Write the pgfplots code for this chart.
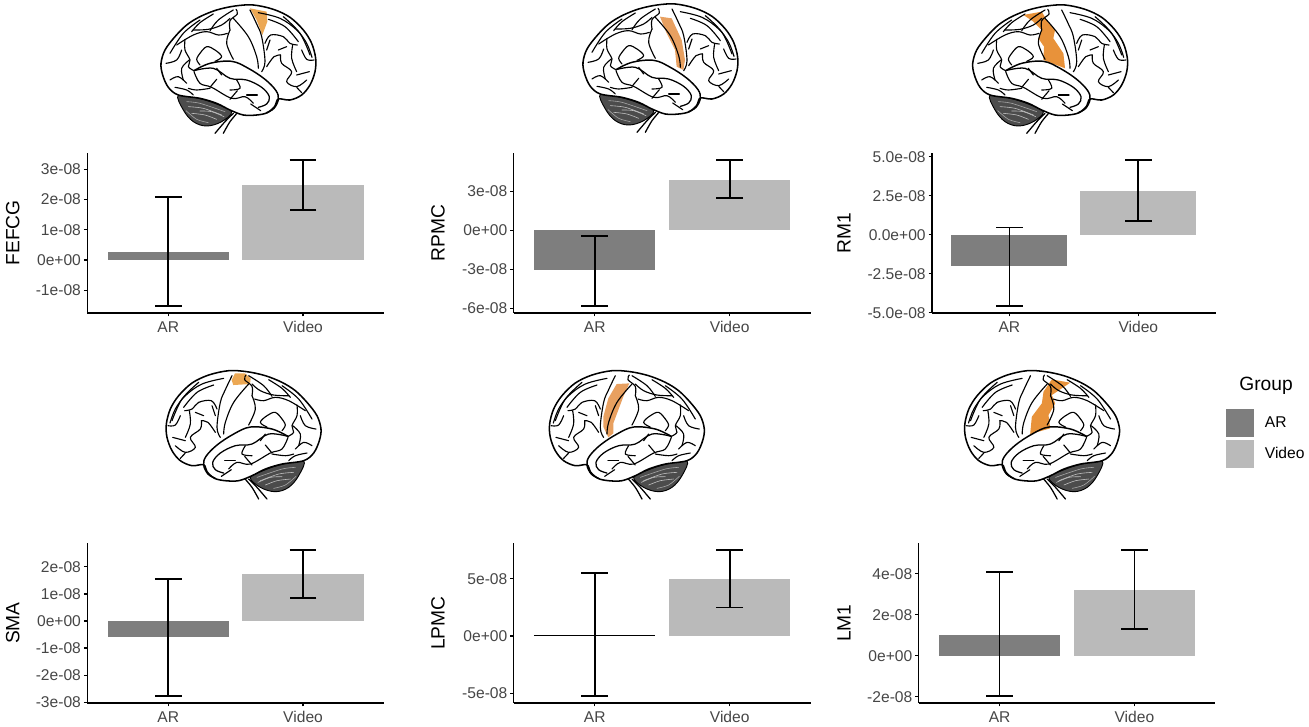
\documentclass[border=0pt]{standalone}
\usepackage{fontspec}
\setmainfont{Liberation Sans}
\usepackage{pgfplots}
\pgfplotsset{compat=1.18}
\definecolor{arGrey}{RGB}{126,126,126}
\definecolor{videoGrey}{RGB}{186,186,186}
\definecolor{tickGrey}{RGB}{70,70,70}
\pgfplotsset{
  panel/.style n args={4}{
    at={(#1*0.75pt,-#2*0.75pt)}, anchor=south west,
    scale only axis, width=#3pt, height=120pt,
    y label style={at={(axis description cs:#4,0.5)},anchor=center},
  },
  every panel/.style={
    ybar, bar shift=0pt, bar width=0.9,
    xmin=-0.6, xmax=1.6, xtick={0,1}, xticklabels={AR,Video},
    axis lines*=left, axis line style={line width=1.1pt},
    tick align=outside, major tick length=2.6pt,
    tick style={black,line width=0.9pt},
    tick label style={font=\fontsize{11.7}{12}\selectfont,text=tickGrey},
    xticklabel style={inner sep=0pt,yshift=-3.6pt},
    yticklabel style={inner sep=0pt,xshift=-2pt},
    ylabel style={font=\fontsize{14.4}{15}\selectfont},
    scaled y ticks=false, clip=false,
    error bars/error bar style={black,line width=1.3pt},
    error bars/error mark options={black,line width=1.3pt,mark size=10pt,rotate=90},
  },
  arbar/.style={fill=arGrey,draw=none},
  videobar/.style={fill=videoGrey,draw=none},
}
% one bar: x, mean, lower and upper end of the error bar
\newcommand{\onebar}[5]{
  \addplot[#1,error bars/.cd,y dir=both,y explicit]
    table[row sep=\\,x=x,y=y,
      y error plus expr=\thisrow{hi}-\thisrow{y},
      y error minus expr=\thisrow{y}-\thisrow{lo}]
    {x y lo hi\\ #2 #3 #4 #5\\};
}
\newcommand{\gy}[1]{\draw[line width=0.85pt] plot[smooth,tension=.6] coordinates {#1};}
% hand traced brain, units are a third of an image pixel
\newcommand{\brain}[5]{
\begin{scope}[shift={(#1*0.75pt,-#2*0.75pt)},x=#3*0.25pt,y=-0.25pt,line join=round,line cap=round]
  \fill[black!70,draw=black,line width=0.7pt] plot[smooth cycle,tension=.6] coordinates
    {(85,285)(100,330)(130,365)(170,378)(215,365)(245,335)(200,312)(150,296)};
  \draw[white!75!black,line width=0.45pt] plot[smooth] coordinates {(115,320)(160,325)(215,345)};
  \draw[white!75!black,line width=0.45pt] plot[smooth] coordinates {(125,340)(165,345)(200,358)};
  \draw[white!65!black,line width=0.45pt] plot[smooth] coordinates {(110,305)(150,310)(225,335)};
  \draw[white!65!black,line width=0.45pt] plot[smooth] coordinates {(108,332)(140,358)(175,368)};
  \draw[white!75!black,line width=0.45pt] plot[smooth] coordinates {(150,333)(185,335)(222,350)};
  \draw[line width=0.95pt] plot[smooth] coordinates {(250,340)(225,365)(195,400)};
  \draw[line width=0.95pt] plot[smooth] coordinates {(265,335)(240,365)(220,400)};
  \fill[white,draw=black,line width=1.15pt] plot[smooth cycle,tension=.55] coordinates
    {(85,285)(55,262)(38,225)(33,190)(45,150)(75,110)(110,75)(150,50)(200,30)(255,18)(310,15)(370,28)(420,52)(460,90)(485,130)(497,175)(495,215)(480,255)(455,285)(420,300)(385,297)(375,318)(352,338)(320,345)(280,345)(240,330)(200,310)(150,295)};
  \fill[#5] #4 -- cycle;
  \draw[line width=1.1pt] plot[smooth,tension=.6] coordinates {(132,212)(180,190)(245,184)(295,205)(345,238)(378,272)(385,298)(372,325)(350,338)};
  \draw[line width=0.95pt] plot[smooth,tension=.6] coordinates {(132,212)(190,205)(240,235)(290,240)(335,262)(358,290)(350,312)(325,322)};
  \gy{(240,90)(230,130)(250,178)}
  \gy{(240,90)(240,62)(262,42)(258,28)}
  \gy{(300,30)(320,72)(335,110)(345,185)(335,215)}
  \gy{(250,55)(295,110)(320,170)(325,205)}
  \gy{(345,130)(362,105)(400,110)(420,130)(442,135)}
  \gy{(428,135)(425,175)(440,215)}
  \gy{(350,200)(372,170)(392,165)}
  \gy{(392,165)(395,190)(425,215)(410,245)(440,260)(470,240)}
  \gy{(325,38)(390,55)(440,90)(470,130)(486,172)}
  \gy{(400,50)(450,100)(480,165)}
  \gy{(355,58)(405,80)(445,125)}
  \gy{(80,135)(130,105)(170,95)(205,105)(232,100)}
  \gy{(130,90)(175,88)(215,75)(240,55)}
  \gy{(105,118)(105,150)(120,180)(115,200)(132,212)}
  \gy{(118,180)(95,205)(100,240)}
  \gy{(150,160)(170,140)(195,150)(215,170)(195,184)}
  \gy{(150,160)(140,178)(150,195)}
  \gy{(48,190)(80,180)(95,150)}
  \gy{(60,240)(85,230)(110,250)}
  \gy{(150,60)(100,100)(60,160)}
  \gy{(190,42)(150,68)(125,95)}
  \gy{(250,30)(205,60)(180,92)}
  \gy{(200,205)(215,225)}
  \gy{(260,240)(270,265)(240,270)}
  \gy{(180,265)(140,270)(115,265)}
  \gy{(132,215)(150,250)(185,262)(245,295)(285,290)(310,310)}
  \gy{(180,262)(200,238)}
  \gy{(240,298)(262,272)}
  \gy{(290,285)(322,285)}
  \gy{(332,332)(302,312)}
  \gy{(75,262)(110,270)(130,285)}
  \gy{(360,120)(350,150)}
  \gy{(410,140)(385,150)}
  \gy{(455,150)(470,178)(492,180)}
  \gy{(440,225)(478,215)}
  \gy{(455,278)(440,262)}
\end{scope}
}
\definecolor{orA}{RGB}{236,168,84}
\definecolor{orB}{RGB}{232,160,96}
\definecolor{orC}{RGB}{232,146,58}
\begin{document}
\begin{tikzpicture}
\path[use as bounding box] (0,0) rectangle (1309*0.75pt,-727*0.75pt);

\brain{150}{0}{1}{(300,25)--(350,35)--(352,65)--(337,105)--(320,60)}{orA}
\brain{572}{-1}{1}{(264,53)--(299,58)--(329,123)--(339,183)--(334,213)--(314,203)--(309,153)--(284,103)}{orB}
\brain{961.7}{0}{1}{(185,45)--(240,35)--(255,60)--(280,90)--(275,115)--(305,160)--(310,205)--(245,180)--(247,140)--(230,115)--(240,90)--(215,65)}{orC}
\brain{332}{365.7}{-1}{(301,43)--(291,23)--(261,23)--(244,38)--(246,55)--(296,58)}{orA}
\brain{715.3}{365.7}{-1}{(296,55)--(258,53)--(276,93)--(291,133)--(306,173)--(306,203)--(321,215)--(336,183)--(336,153)--(321,98)}{orB}
\brain{1130.5}{365.7}{-1}{(236,41)--(181,51)--(221,78)--(236,88)--(226,113)--(246,148)--(241,188)--(301,205)--(296,153)--(266,113)--(261,78)}{orC}

\begin{axis}[every panel,panel={87.3}{313}{222.5}{-0.2513},
  ymin=-1.75e-8,ymax=3.54e-8,ytick={-1e-8,0,1e-8,2e-8,3e-8},
  yticklabels={-1e-08,0e+00,1e-08,2e-08,3e-08},ylabel={FEFCG}]
  \onebar{arbar}{0}{0.255e-8}{-1.51e-8}{2.08e-8}
  \onebar{videobar}{1}{2.49e-8}{1.66e-8}{3.30e-8}
\end{axis}

\begin{axis}[every panel,panel={513.7}{313}{222.75}{-0.2549},
  ymin=-6.35e-8,ymax=5.93e-8,ytick={-6e-8,-3e-8,0,3e-8},
  yticklabels={-6e-08,-3e-08,0e+00,3e-08},ylabel={RPMC}]
  \onebar{arbar}{0}{-3.07e-8}{-5.79e-8}{-0.46e-8}
  \onebar{videobar}{1}{3.88e-8}{2.46e-8}{5.37e-8}
\end{axis}

\begin{axis}[every panel,panel={932}{313}{212.8}{-0.3102},
  ymin=-5.02e-8,ymax=5.24e-8,ytick={-5e-8,-2.5e-8,0,2.5e-8,5e-8},
  yticklabels={-5.0e-08,-2.5e-08,0.0e+00,2.5e-08,5.0e-08},ylabel={RM1}]
  \onebar{arbar}{0}{-2.01e-8}{-4.55e-8}{0.47e-8}
  \onebar{videobar}{1}{2.80e-8}{0.88e-8}{4.77e-8}
\end{axis}

\begin{axis}[every panel,panel={87.3}{703}{222.5}{-0.2513},
  ymin=-3.03e-8,ymax=2.88e-8,ytick={-3e-8,-2e-8,-1e-8,0,1e-8,2e-8},
  yticklabels={-3e-08,-2e-08,-1e-08,0e+00,1e-08,2e-08},ylabel={SMA}]
  \onebar{arbar}{0}{-0.59e-8}{-2.77e-8}{1.56e-8}
  \onebar{videobar}{1}{1.73e-8}{0.84e-8}{2.62e-8}
\end{axis}

\begin{axis}[every panel,panel={513.7}{703}{222.75}{-0.2549},
  ymin=-5.85e-8,ymax=8.12e-8,ytick={-5e-8,0,5e-8},
  yticklabels={-5e-08,0e+00,5e-08},ylabel={LPMC}]
  \onebar{arbar}{0}{0.05e-8}{-5.26e-8}{5.5e-8}
  \addplot[sharp plot,black,line width=1.1pt,forget plot] coordinates {(-0.45,0.05e-8)(0.45,0.05e-8)};
  \onebar{videobar}{1}{5.0e-8}{2.5e-8}{7.5e-8}
\end{axis}

\begin{axis}[every panel,panel={918.7}{703}{222.45}{-0.2519},
  ymin=-2.31e-8,ymax=5.5e-8,ytick={-2e-8,0,2e-8,4e-8},
  yticklabels={-2e-08,0e+00,2e-08,4e-08},ylabel={LM1},
  legend style={at={(1.035,1.8375)},anchor=north west,draw=none,fill=none,
    inner sep=0pt,outer sep=0pt,row sep=2pt,
    font=\fontsize{11.7}{12}\selectfont,
    legend cell align=left,nodes={inner sep=0pt,anchor=west},column sep=8pt},
  legend image code/.code={\fill[#1] (0pt,-10.6pt) rectangle (21.4pt,10.6pt);},
  ]
  \onebar{arbar}{0}{1.03e-8}{-1.98e-8}{4.08e-8}
  \addlegendentry{AR}
  \onebar{videobar}{1}{3.22e-8}{1.32e-8}{5.16e-8}
  \addlegendentry{Video}
\end{axis}

\node[font=\fontsize{14.4}{15}\selectfont] at (1266*0.75pt,-386*0.75pt) {Group};
\end{tikzpicture}
\end{document}
